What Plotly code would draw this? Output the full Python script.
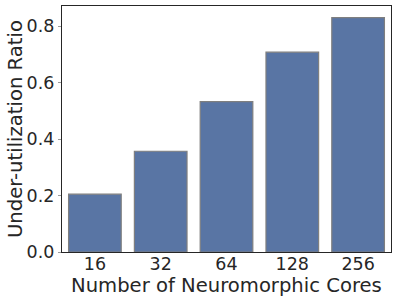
import plotly.graph_objects as go

categories = ["16", "32", "64", "128", "256"]
values = [0.205, 0.357, 0.533, 0.708, 0.830]
yticks = [0.0, 0.2, 0.4, 0.6, 0.8]
ytick_labels = ["0.0", "0.2", "0.4", "0.6", "0.8"]
x_title = "Number of Neuromorphic Cores"
y_title = "Under-utilization Ratio"

fig = go.Figure(go.Bar(
    x=categories, y=values, width=0.8,
    marker=dict(color="#5975a4", line=dict(color="#7f7f7f", width=1.2)),
))

font = "DejaVu Sans"
ink = "#262626"
fig.update_layout(
    width=398, height=303,
    margin=dict(l=62, r=7, t=6, b=51),
    paper_bgcolor="white", plot_bgcolor="white",
    showlegend=False,
    font=dict(family=font, size=17.5, color=ink),
    bargap=0.2,
)
fig.update_xaxes(
    type="category", range=[-0.5, 4.5],
    showline=True, linecolor=ink, linewidth=1.2, mirror=True,
    ticks="", showgrid=False, automargin=False, ticklabelstandoff=-4,
    tickfont=dict(size=17.5, family=font, color=ink),
)
fig.update_yaxes(
    range=[0, 0.8715],
    tickvals=yticks, ticktext=ytick_labels,
    showline=True, linecolor=ink, linewidth=1.2, mirror=True,
    ticks="outside", ticklen=3, tickcolor="#999999", tickwidth=1,
    showgrid=False, zeroline=False, automargin=False,
    tickfont=dict(size=17.5, family=font, color=ink),
)
fig.add_annotation(text=x_title, xref="paper", yref="paper", x=0.5, y=0,
                   xanchor="center", yanchor="middle", yshift=-33, showarrow=False,
                   font=dict(size=19.6, family=font, color=ink))
fig.add_annotation(text=y_title, xref="paper", yref="paper", x=0, y=0.5,
                   xanchor="center", yanchor="middle", xshift=-47, textangle=-90,
                   showarrow=False, font=dict(size=19.6, family=font, color=ink))
fig.write_html("out.html", config={"displayModeBar": False},
               post_script="document.body.style.margin='0';document.body.style.padding='0';")
